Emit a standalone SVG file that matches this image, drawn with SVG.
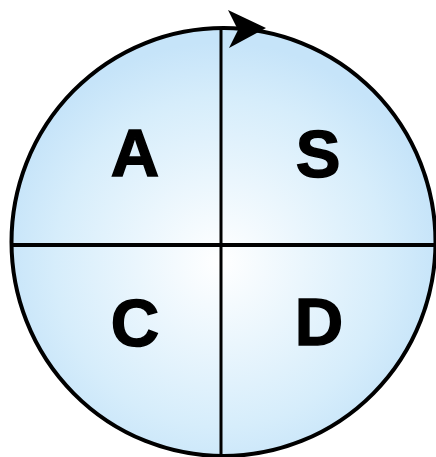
<svg xmlns="http://www.w3.org/2000/svg" width="436" height="457" viewBox="0 0 436 457">
<defs>
<radialGradient id="g" cx="220" cy="262" r="220" gradientUnits="userSpaceOnUse">
<stop offset="0" stop-color="#ffffff"/>
<stop offset="0.75" stop-color="#d6edfb"/>
<stop offset="1" stop-color="#c6e4f9"/>
</radialGradient>
<style>
.l{font-family:"Liberation Sans",Arial,sans-serif;font-weight:bold;font-size:67px;fill:#000;stroke:#000;stroke-width:1.5;text-anchor:middle}
.ln{stroke:#000;fill:none}
</style>
</defs>
<g id="circle">
<ellipse cx="223.5" cy="242" rx="212" ry="214" fill="url(#g)" stroke="#000" stroke-width="4"/>
</g>
<g id="connectors">
<line class="ln" x1="221" y1="30" x2="221" y2="457" stroke-width="3"/>
<line class="ln" x1="11" y1="245" x2="436" y2="245" stroke-width="4"/>
<polygon points="228,10 266,28 229,48 238,30" fill="#000"/>
</g>
<g id="A"><text class="l" x="135" y="176">A</text></g>
<g id="S"><text class="l" x="318" y="177">S</text></g>
<g id="C"><text class="l" x="135" y="346">C</text></g>
<g id="D"><text class="l" x="319" y="345">D</text></g>
</svg>
